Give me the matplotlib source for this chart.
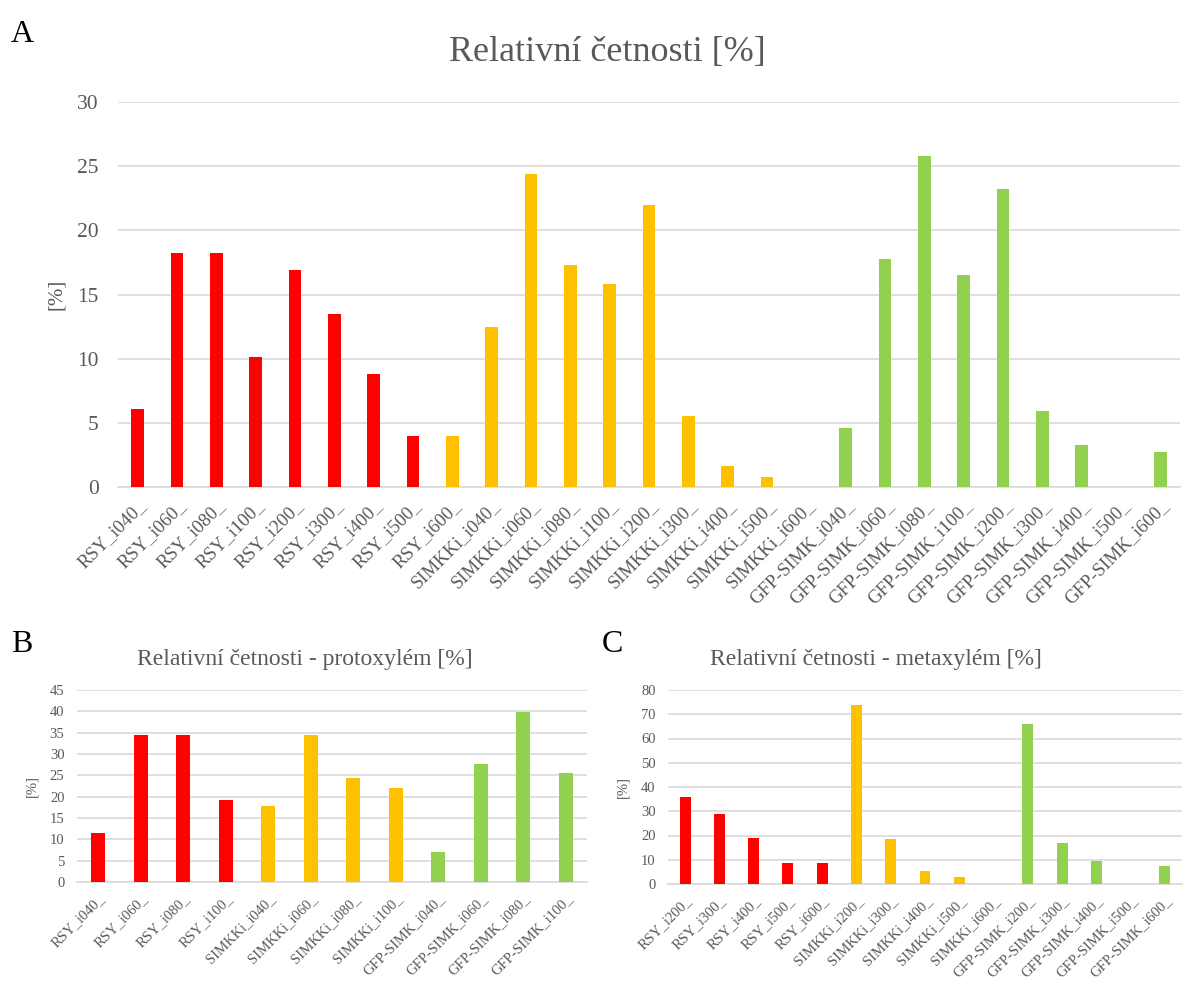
import numpy as np
import matplotlib
matplotlib.use("Agg")
import matplotlib.pyplot as plt

plt.rcParams["font.family"] = ["Liberation Serif", "DejaVu Serif"]

# Data
levels_all = ["i040", "i060", "i080", "i100", "i200", "i300", "i400", "i500", "i600"]
groups = ["RSY", "SIMKKi", "GFP-SIMK"]

labels_a = [g + "_" + l + "_" for g in groups for l in levels_all]
values_a = [6.1, 18.2, 18.2, 10.1, 16.9, 13.5, 8.8, 4.0, 4.0,
            12.5, 24.4, 17.3, 15.8, 22.0, 5.5, 1.6, 0.8, 0.0,
            4.6, 17.8, 25.8, 16.5, 23.2, 5.9, 3.3, 0.0, 2.7]
# colour group index of each bar (as in the original, RSY_i600 is yellow)
colors_a = [0] * 8 + [1] * 10 + [2] * 9

levels_b = ["i040", "i060", "i080", "i100"]
labels_b = [g + "_" + l + "_" for g in groups for l in levels_b]
values_b = [11.4, 34.5, 34.5, 19.2, 17.7, 34.4, 24.4, 22.1, 7.0, 27.6, 39.8, 25.5]
colors_b = [0] * 4 + [1] * 4 + [2] * 4

levels_c = ["i200", "i300", "i400", "i500", "i600"]
labels_c = [g + "_" + l + "_" for g in groups for l in levels_c]
values_c = [35.8, 28.8, 18.8, 8.6, 8.6, 73.7, 18.5, 5.3, 2.7, 0.0, 66.0, 17.0, 9.3, 0.0, 7.5]
colors_c = [0] * 5 + [1] * 5 + [2] * 5

palette = ["#FF0000", "#FFC000", "#92D050"]
text_gray = "#595959"
grid_gray = "#D9D9D9"

W, H = 1187, 983
fig = plt.figure(figsize=(W / 100, H / 100), dpi=100)


def px_axes(left, top, right, bottom):
    return fig.add_axes([left / W, 1 - bottom / H, (right - left) / W, (bottom - top) / H])


def draw(ax, labels, values, cidx, ymax, ystep, tick_fs, xlab_fs, ypad):
    x = np.arange(len(labels))
    ax.bar(x, values, width=0.32, color=[palette[c] for c in cidx], zorder=3)
    ax.set_ylim(0, ymax)
    ax.set_yticks(np.arange(0, ymax + 1, ystep))
    ax.set_xlim(-0.5, len(labels) - 0.5)
    ax.set_xticks(x)
    ax.set_xticklabels(labels, rotation=45, ha="right", rotation_mode="anchor",
                       fontsize=xlab_fs, color=text_gray)
    ax.tick_params(axis="both", length=0, colors=text_gray)
    ax.tick_params(axis="y", labelsize=tick_fs, pad=ypad)
    ax.tick_params(axis="x", pad=7)
    ax.grid(axis="y", color=grid_gray, linewidth=1.2, zorder=0)
    for s in ["top", "right", "left"]:
        ax.spines[s].set_visible(False)
    ax.spines["bottom"].set_color(grid_gray)
    ax.spines["bottom"].set_linewidth(1.2)
    ax.spines["bottom"].set_zorder(1)


# Panel A
ax_a = px_axes(118, 102, 1180, 487)
draw(ax_a, labels_a, values_a, colors_a, 30, 5, 15.5, 13.5, 14)
ax_a.set_ylabel("[%]", fontsize=15, color=text_gray, labelpad=8)

# Panel B
ax_b = px_axes(77, 690, 587, 882)
draw(ax_b, labels_b, values_b, colors_b, 45, 5, 10.5, 10.5, 9)
ax_b.set_ylabel("[%]", fontsize=10.5, color=text_gray, labelpad=8)

# Panel C
ax_c = px_axes(668, 690, 1182, 884)
draw(ax_c, labels_c, values_c, colors_c, 80, 10, 10.5, 10.5, 9)
ax_c.set_ylabel("[%]", fontsize=10.5, color=text_gray, labelpad=8)

# Titles and panel letters
fig.text(607 / W, 1 - 52 / H, "Relativní četnosti [%]", ha="center", va="center",
         fontsize=26, color=text_gray)
fig.text(305 / W, 1 - 660 / H, "Relativní četnosti - protoxylém [%]", ha="center",
         va="center", fontsize=17, color=text_gray)
fig.text(876 / W, 1 - 660 / H, "Relativní četnosti - metaxylém [%]", ha="center",
         va="center", fontsize=17, color=text_gray)
fig.text(22 / W, 1 - 35 / H, "A", ha="center", va="center", fontsize=23, color="black")
fig.text(22 / W, 1 - 645 / H, "B", ha="center", va="center", fontsize=23, color="black")
fig.text(612 / W, 1 - 645 / H, "C", ha="center", va="center", fontsize=23, color="black")

fig.savefig("out.png", dpi=100)
